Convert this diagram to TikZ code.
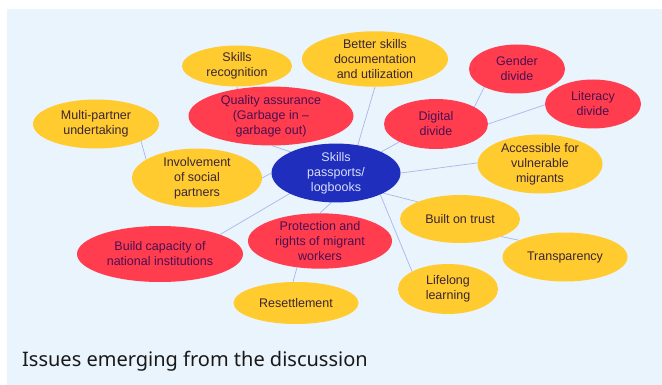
\documentclass[tikz,border=0pt]{standalone}
\usepackage{fontspec}
\setmainfont{Liberation Sans}
\newfontfamily\capfont{Noto Sans}
\usetikzlibrary{shapes.geometric}
\definecolor{bgblue}{HTML}{EAF4FC}
\definecolor{yel}{HTML}{FFCB2F}
\definecolor{redd}{HTML}{FF3D4F}
\definecolor{blu}{HTML}{1F2EBD}
\definecolor{yeltext}{HTML}{3A2535}
\definecolor{redtext}{HTML}{4B0F50}
\definecolor{blutext}{HTML}{D9DDF9}
\definecolor{linec}{HTML}{A9B6EA}
\pgfdeclarelayer{bgl}
\pgfdeclarelayer{lines}
\pgfsetlayers{bgl,lines,main}
\tikzset{
  bub/.style={ellipse, inner sep=0pt, align=center, font=\fontsize{12.5}{15}\selectfont},
  ybub/.style={bub, fill=yel, text=yeltext},
  rbub/.style={bub, fill=redd, text=redtext},
  bbub/.style={bub, fill=blu, text=blutext},
  conn/.style={draw=linec, line width=0.7pt},
}
\begin{document}
\begin{tikzpicture}[x=1pt,y=-1pt]
\useasboundingbox (0,0) rectangle (662,385);
\begin{pgfonlayer}{bgl}
\fill[white] (0,0) rectangle (662,385);
\fill[bgblue] (7,9) rectangle (662,385);
\end{pgfonlayer}

\node[ybub, minimum width=110pt, minimum height=41pt] (sr) at (237,66) {Skills\\recognition};
\node[ybub, minimum width=146pt, minimum height=49pt] (bs) at (375,59) {Better skills\\documentation\\and utilization};
\node[rbub, minimum width=165pt, minimum height=49pt] (qa) at (271,116) {Quality assurance\\(Garbage in --\\garbage out)};
\node[ybub, minimum width=126pt, minimum height=49pt] (mp) at (96,124) {Multi-partner\\undertaking};
\node[ybub, minimum width=130pt, minimum height=50pt] (inv) at (197,178) {Involvement\\of social\\partners};
\node[bbub, minimum width=129pt, minimum height=58pt] (c) at (336,173) {Skills\\passports/\\logbooks};
\node[rbub, minimum width=96pt, minimum height=49pt] (gd) at (517,69) {Gender\\divide};
\node[rbub, minimum width=96pt, minimum height=49pt] (ld) at (593,104) {Literacy\\divide};
\node[rbub, minimum width=104pt, minimum height=50pt] (dd) at (436,124) {Digital\\divide};
\node[ybub, minimum width=125pt, minimum height=50pt] (acc) at (540,164) {Accessible for\\vulnerable\\migrants};
\node[ybub, minimum width=120pt, minimum height=48pt] (bt) at (460,219) {Built on trust};
\node[ybub, minimum width=125pt, minimum height=49pt] (tr) at (565,257) {Transparency};
\node[ybub, minimum width=100pt, minimum height=50pt] (ll) at (448,289) {Lifelong\\learning};
\node[rbub, minimum width=144pt, minimum height=50pt] (pr) at (320,241) {Protection and\\rights of migrant\\workers};
\node[rbub, minimum width=166pt, minimum height=56pt] (bc) at (160,254) {Build capacity of\\national institutions};
\node[ybub, minimum width=125pt, minimum height=42pt] (rs) at (296,303) {Resettlement};

\node[anchor=base west, inner sep=0pt, font=\capfont\fontsize{20}{24}\selectfont, text=black!90] (cap) at (22,366) {Issues emerging from the discussion};

\begin{pgfonlayer}{lines}
\draw[conn] (sr.-90) -- (qa.141);
\draw[conn] (qa.-88) -- (c.155);
\draw[conn] (bs.-90) -- (c.52);
\draw[conn] (mp.-21) -- (inv.160);
\draw[conn] (inv.0) -- (c.180);
\draw[conn] (c.25) -- (dd.-154);
\draw[conn] (dd.24) -- (gd.-151);
\draw[conn] (dd.0) -- (ld.-179);
\draw[conn] (c.0) -- (acc.179);
\draw[conn] (c.-23) -- (bt.158);
\draw[conn] (bt.-23) -- (tr.160);
\draw[conn] (c.-26) -- (ll.154);
\draw[conn] (c.-99) -- (pr.90);
\draw[conn] (c.-156) -- (bc.18);
\draw[conn] (pr.-131) -- (rs.98);
\end{pgfonlayer}
\end{tikzpicture}
\end{document}
